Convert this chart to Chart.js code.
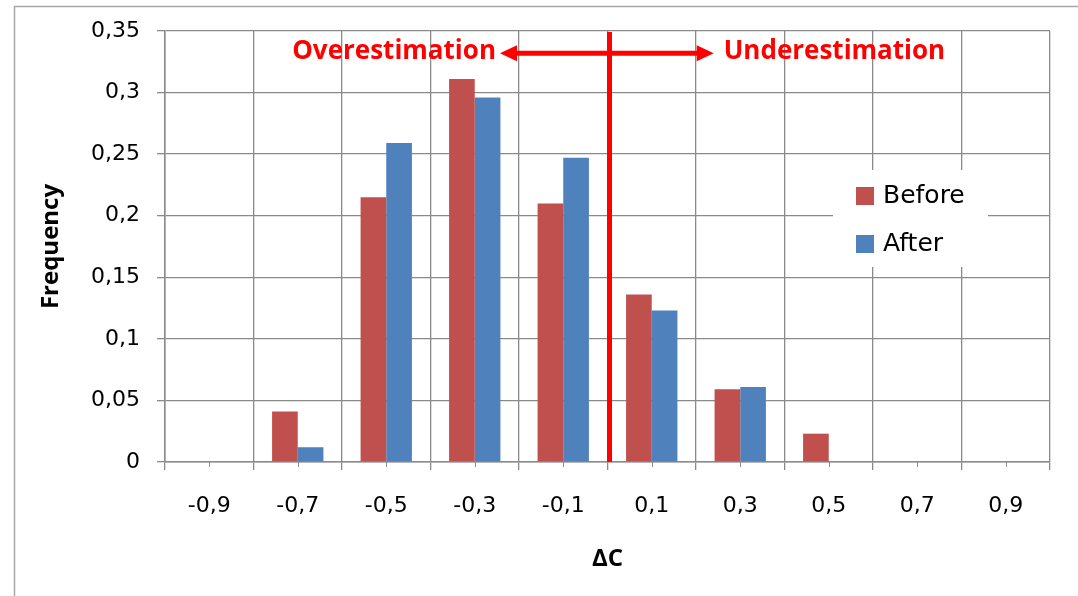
<!DOCTYPE html>
<html>
<head>
<meta charset="utf-8">
<script src="https://cdn.jsdelivr.net/npm/chart.js@4.4.1/dist/chart.umd.min.js"></script>
<style>
  html, body { margin: 0; padding: 0; background: #fff; }
  #wrap { width: 1078px; height: 596px; }
</style>
</head>
<body>
<div id="wrap"><canvas id="chart" width="1078" height="596"></canvas></div>
<script>
const categories = ['-0,9', '-0,7', '-0,5', '-0,3', '-0,1', '0,1', '0,3', '0,5', '0,7', '0,9'];
const beforeValues = [0, 0.041, 0.215, 0.311, 0.21, 0.136, 0.059, 0.023, 0, 0];
const afterValues = [0, 0.012, 0.259, 0.296, 0.247, 0.123, 0.061, 0, 0, 0];
const yMin = 0;
const yMax = 0.35;
const yStep = 0.05;

// divider sits between "-0,1" and "0,1"
const dividerValue = 4.5;
const arrowLeftValue = 3.285;
const arrowRightValue = 5.7;
const arrowY = 0.332;

const gridColor = '#8a8a8a';
const beforeColor = '#C0504D';
const afterColor = '#4F81BD';
const red = '#FF0000';

const chartDecor = {
  id: 'chartDecor',
  beforeDraw(chart) {
    const { ctx } = chart;
    ctx.save();
    ctx.strokeStyle = '#a6a6a6';
    ctx.lineWidth = 1.5;
    ctx.strokeRect(14.5, 6.5, 1200, 700);
    ctx.restore();
  },
  afterDatasetsDraw(chart) {
    const { ctx, chartArea, scales: { x, y } } = chart;
    ctx.save();

    // short ticks under each category centre
    ctx.strokeStyle = gridColor;
    ctx.lineWidth = 1;
    categories.forEach((_, i) => {
      const px = Math.round(x.getPixelForValue(i)) + 0.5;
      ctx.beginPath();
      ctx.moveTo(px, chartArea.bottom);
      ctx.lineTo(px, chartArea.bottom + 5);
      ctx.stroke();
    });

    // red divider line
    const lineX = x.getPixelForValue(dividerValue) + 2;
    ctx.strokeStyle = red;
    ctx.lineWidth = 5;
    ctx.beginPath();
    ctx.moveTo(lineX, chartArea.top + 1);
    ctx.lineTo(lineX, chartArea.bottom);
    ctx.stroke();

    // double arrow
    const ay = y.getPixelForValue(arrowY);
    const ax1 = x.getPixelForValue(arrowLeftValue);
    const ax2 = x.getPixelForValue(arrowRightValue);
    const head = 17;
    ctx.lineWidth = 5;
    ctx.beginPath();
    ctx.moveTo(ax1 + head - 2, ay);
    ctx.lineTo(ax2 - head + 2, ay);
    ctx.stroke();
    ctx.fillStyle = red;
    ctx.beginPath();
    ctx.moveTo(ax1, ay);
    ctx.lineTo(ax1 + head, ay - 8);
    ctx.lineTo(ax1 + head, ay + 8);
    ctx.closePath();
    ctx.fill();
    ctx.beginPath();
    ctx.moveTo(ax2, ay);
    ctx.lineTo(ax2 - head, ay - 8);
    ctx.lineTo(ax2 - head, ay + 8);
    ctx.closePath();
    ctx.fill();

    ctx.font = 'bold 26px "Open Sans"';
    ctx.textBaseline = 'middle';
    ctx.textAlign = 'right';
    ctx.fillText('Overestimation', ax1 - 4, ay - 2);
    ctx.textAlign = 'left';
    ctx.fillText('Underestimation', ax2 + 10, ay - 2);
    ctx.restore();
  },
  afterDraw(chart) {
    const { ctx } = chart;
    ctx.save();
    ctx.fillStyle = '#fff';
    ctx.fillRect(833, 170, 155, 97);
    ctx.font = '25px "DejaVu Sans"';
    ctx.textBaseline = 'middle';
    ctx.textAlign = 'left';
    chart.data.datasets.forEach((ds, i) => {
      const cy = 196 + i * 48;
      ctx.fillStyle = ds.backgroundColor;
      ctx.fillRect(856, cy - 9, 18, 18);
      ctx.fillStyle = '#000';
      ctx.fillText(ds.label, 883, cy);
    });
    ctx.restore();
  },
};

new Chart(document.getElementById('chart'), {
  type: 'bar',
  data: {
    labels: categories,
    datasets: [
      {
        label: 'Before',
        data: beforeValues,
        backgroundColor: beforeColor,
        barPercentage: 1,
        categoryPercentage: 0.58,
      },
      {
        label: 'After',
        data: afterValues,
        backgroundColor: afterColor,
        barPercentage: 1,
        categoryPercentage: 0.58,
      },
    ],
  },
  options: {
    responsive: false,
    animation: false,
    events: [],
    layout: { padding: { top: 31, right: 28, bottom: 0, left: 0 } },
    plugins: {
      legend: { display: false },
      tooltip: { enabled: false },
    },
    scales: {
      x: {
        afterFit(scale) { scale.height = 134; },
        grid: { color: gridColor, lineWidth: 1.3, tickLength: 8, offset: true },
        border: { color: gridColor, width: 1.5 },
        ticks: {
          color: '#000',
          font: { family: 'DejaVu Sans', size: 22 },
          padding: 23,
          maxRotation: 0,
        },
        title: {
          display: true,
          text: 'ΔC',
          color: '#000',
          font: { family: 'Open Sans', size: 24, weight: 'bold' },
          padding: { top: 0, bottom: 22 },
        },
      },
      y: {
        min: yMin,
        max: yMax,
        afterFit(scale) { scale.width = 165; },
        grid: { color: gridColor, lineWidth: 1.3, tickLength: 8 },
        border: { color: gridColor, width: 1.5 },
        ticks: {
          stepSize: yStep,
          color: '#000',
          font: { family: 'DejaVu Sans', size: 22 },
          padding: 17,
          callback: value => String(Math.round(value * 100) / 100).replace('.', ','),
        },
        title: {
          display: true,
          text: 'Frequency',
          color: '#000',
          font: { family: 'Open Sans', size: 24, weight: 'bold' },
          padding: { top: 37, bottom: 0 },
        },
      },
    },
  },
  plugins: [chartDecor],
});
</script>
</body>
</html>
